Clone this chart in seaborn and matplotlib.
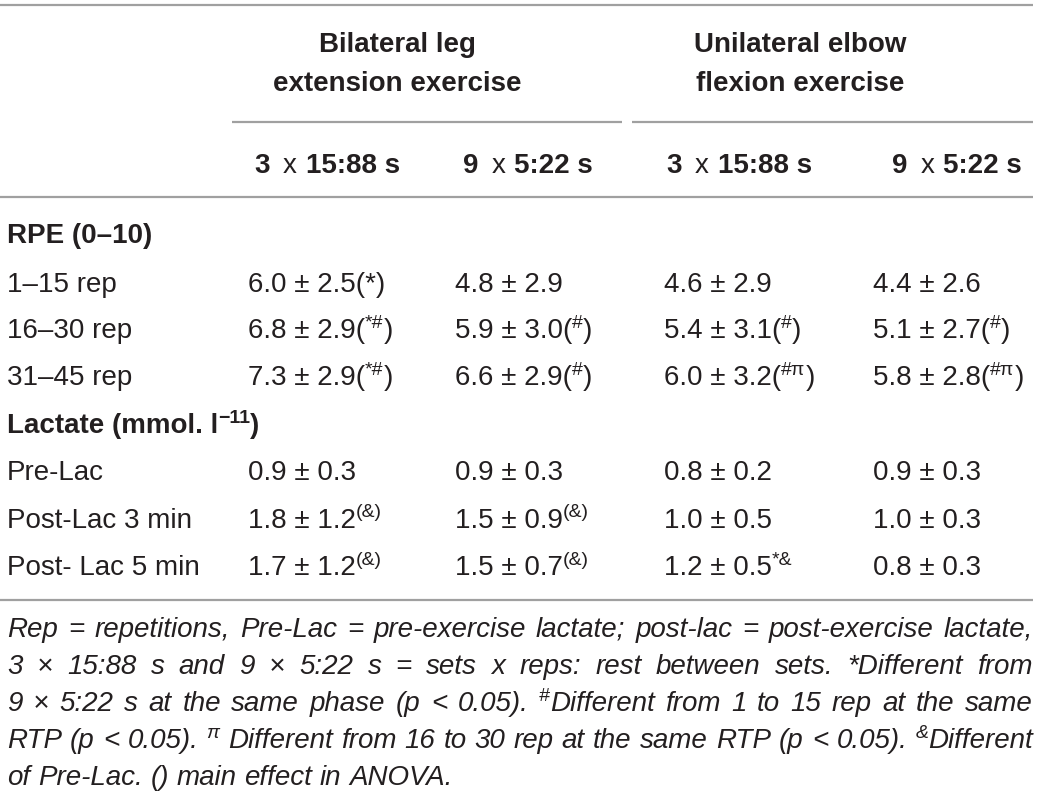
import matplotlib
matplotlib.use("Agg")
import matplotlib.pyplot as plt
import seaborn as sns

# Table content
group_titles = [["Bilateral leg", "extension exercise"], ["Unilateral elbow", "flexion exercise"]]
conditions = [("3", "15:88 s"), ("9", "5:22 s"), ("3", "15:88 s"), ("9", "5:22 s")]

rpe_title = "RPE (0–10)"
rpe_labels = ["1–15 rep", "16–30 rep", "31–45 rep"]
rpe_mean = [[6.0, 4.8, 4.6, 4.4],
            [6.8, 5.9, 5.4, 5.1],
            [7.3, 6.6, 6.0, 5.8]]
rpe_sd = [[2.5, 2.9, 2.9, 2.6],
          [2.9, 3.0, 3.1, 2.7],
          [2.9, 2.9, 3.2, 2.8]]
# {...} marks superscript text
rpe_marks = [["(*)", "", "", ""],
             ["({*#})", "({#})", "({#})", "({#})"],
             ["({*#})", "({#})", "({#π})", "({#π})"]]

lac_title = "Lactate (mmol. l{−11})"
lac_labels = ["Pre-Lac", "Post-Lac 3 min", "Post- Lac 5 min"]
lac_mean = [[0.9, 0.9, 0.8, 0.9],
            [1.8, 1.5, 1.0, 1.0],
            [1.7, 1.5, 1.2, 0.8]]
lac_sd = [[0.3, 0.3, 0.2, 0.3],
          [1.2, 0.9, 0.5, 0.3],
          [1.2, 0.7, 0.5, 0.3]]
lac_marks = [["", "", "", ""],
             ["{(&)}", "{(&)}", "", ""],
             ["{(&)}", "{(&)}", "{*&}", ""]]

footnote = [
    "Rep = repetitions, Pre-Lac = pre-exercise lactate; post-lac = post-exercise lactate,",
    "3 × 15:88 s and 9 × 5:22 s = sets x reps: rest between sets. *Different from",
    "9 × 5:22 s at the same phase (p < 0.05). {#}Different from 1 to 15 rep at the same",
    "RTP (p < 0.05). {π} Different from 16 to 30 rep at the same RTP (p < 0.05). {&}Different",
    "of Pre-Lac. () main effect in ANOVA.",
]

W, H = 1039, 798
INK = "#231f20"
RULE = "#a0a0a0"
SIZE = 20
SUP = 0.7

sns.set_theme(style="white")
plt.rcParams["font.family"] = ["Liberation Sans", "DejaVu Sans"]

fig = plt.figure(figsize=(W / 100, H / 100), dpi=100)
ax = fig.add_axes([0, 0, 1, 1])
ax.set_xlim(0, W)
ax.set_ylim(H, 0)
ax.axis("off")
renderer = fig.canvas.get_renderer()


def advance(text, **kw):
    # width of text including spaces, measured between two bars
    t1 = ax.text(0, 0, "|" + text + "|", **kw)
    t2 = ax.text(0, 0, "||", **kw)
    w = t1.get_window_extent(renderer).width - t2.get_window_extent(renderer).width
    t1.remove()
    t2.remove()
    return w


def parse(s):
    runs, buf, sup = [], "", False
    for ch in s:
        if ch == "{":
            if buf:
                runs.append((buf, False))
            buf, sup = "", True
        elif ch == "}":
            runs.append((buf, True))
            buf, sup = "", False
        else:
            buf += ch
    if buf:
        runs.append((buf, sup))
    return runs


def layout(runs, size, weight="normal", style="normal"):
    pieces = []
    x = 0
    for item in runs:
        if isinstance(item, (int, float)):
            x += item
            continue
        text, sup = item[0], item[1]
        w8 = item[2] if len(item) > 2 else weight
        fs = size * SUP if sup else size
        kw = dict(fontsize=fs, fontweight=w8, fontstyle=style)
        adv = advance(text, **kw)
        lead = len(text) - len(text.lstrip(" "))
        sp = advance(" ", **kw)
        pieces.append((x + lead * sp, text.strip(" "), sup, kw))
        x += adv
    return pieces, x


def draw_runs(x, y, runs, size=SIZE, weight="normal", style="normal", ha="left"):
    pieces, total = layout(runs, size, weight, style)
    if ha == "center":
        x -= total / 2
    for dx, text, sup, kw in pieces:
        if not text:
            continue
        yy = y - size * 1.389 * 0.36 if sup else y
        ax.text(x + dx, yy, text, va="baseline", ha="left", color=INK, **kw)
    return total


# rules
ax.hlines([5, 197, 600], 0, 1033, color=RULE, lw=1.6)
ax.hlines(122, 232, 622, color=RULE, lw=1.6)
ax.hlines(122, 632, 1033, color=RULE, lw=1.6)

# group headers
for cx, lines in zip([397, 800], group_titles):
    for base, line in zip([52, 91], lines):
        draw_runs(cx, base, [(line, False)], weight="bold", ha="center")

# condition headers
for cx, (n, rest) in zip([327, 528, 739, 957], conditions):
    draw_runs(cx, 173, [(n, False, "bold"), 13.0, ("x", False, "normal"), 9.0,
                        (rest, False, "bold")], weight="bold", ha="center")

col_x = [248, 455, 664, 873]
label_x = 7

# RPE block
draw_runs(label_x, 243, parse(rpe_title), weight="bold")
for i, lab in enumerate(rpe_labels):
    base = 292 + i * 46.5
    draw_runs(label_x, base, [(lab, False)])
    for j in range(4):
        cell = f"{rpe_mean[i][j]:.1f} ± {rpe_sd[i][j]:.1f}" + rpe_marks[i][j]
        draw_runs(col_x[j], base, parse(cell))

# Lactate block
draw_runs(label_x, 433, parse(lac_title), weight="bold")
for i, lab in enumerate(lac_labels):
    base = 480 + i * 47.5
    draw_runs(label_x, base, [(lab, False)])
    for j in range(4):
        cell = f"{lac_mean[i][j]:.1f} ± {lac_sd[i][j]:.1f}" + lac_marks[i][j]
        draw_runs(col_x[j], base, parse(cell))

# footnote, justified between 7 and 1033
left, right = 7, 1033
fsize = 10
widths = []
for line in footnote[:-1]:
    words = line.split(" ")
    ws = sum(layout(parse(w), fsize, style="italic")[1] for w in words)
    sp = advance(" ", fontsize=fsize, fontstyle="italic")
    widths.append(ws + sp * (len(words) - 1))
fsize = min(20, fsize * (right - left) / max(widths) * 0.995)

for k, line in enumerate(footnote):
    base = 637 + k * 37
    words = line.split(" ")
    token_w = [layout(parse(w), fsize, style="italic")[1] for w in words]
    if k < len(footnote) - 1:
        gap = (right - left - sum(token_w)) / (len(words) - 1)
    else:
        gap = advance(" ", fontsize=fsize, fontstyle="italic")
    x = left
    for w, tw in zip(words, token_w):
        draw_runs(x, base, parse(w), size=fsize, style="italic")
        x += tw + gap

fig.savefig("out.png", dpi=100)
